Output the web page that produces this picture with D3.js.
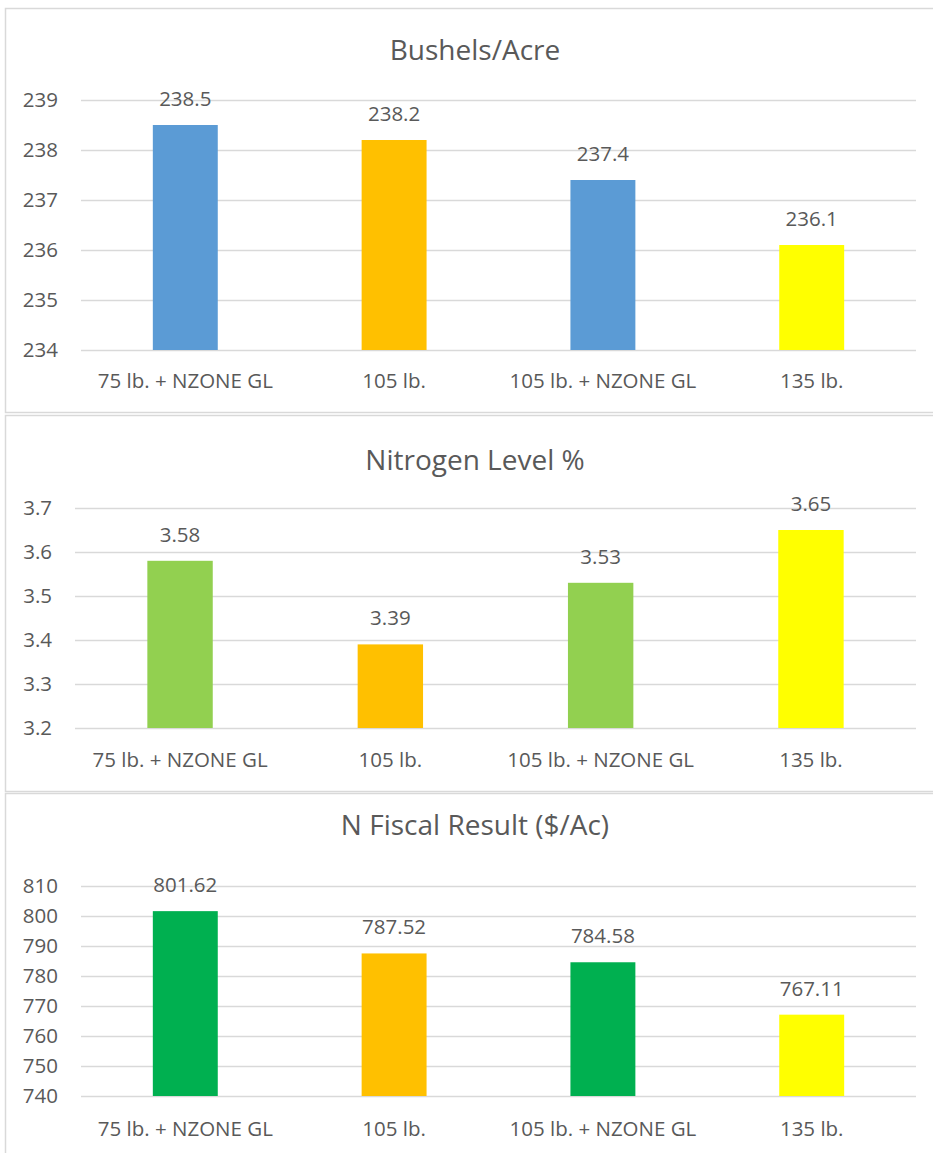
<!DOCTYPE html>
<html>
<head>
<meta charset="utf-8">
<script src="https://cdn.jsdelivr.net/npm/d3@7"></script>
<style>
  body { margin: 0; background: #fff; }
  svg { display: block; font-family: "Open Sans", sans-serif; }
</style>
</head>
<body>
<svg id="chart" width="933" height="1153"></svg>
<script>
const categories = ["75 lb. + NZONE GL", "105 lb.", "105 lb. + NZONE GL", "135 lb."];

const bushels = [238.5, 238.2, 237.4, 236.1];
const nitrogen = [3.58, 3.39, 3.53, 3.65];
const fiscal = [801.62, 787.52, 784.58, 767.11];

const bushelTicks = [234, 235, 236, 237, 238, 239];
const nitrogenTicks = [3.2, 3.3, 3.4, 3.5, 3.6, 3.7];
const fiscalTicks = [740, 750, 760, 770, 780, 790, 800, 810];

const textColor = "#595959";
const gridColor = "#d9d9d9";

// one entry per chart box
const panels = [
  {
    title: "Bushels/Acre", values: bushels, ticks: bushelTicks,
    tickFmt: d3.format("d"), labelFmt: d3.format(".1f"),
    colors: ["#5b9bd5", "#ffc000", "#5b9bd5", "#ffff00"],
    box: [8, 412], left: 81, top: 100, bottom: 350, titleY: 60, catY: 388
  },
  {
    title: "Nitrogen Level %", values: nitrogen, ticks: nitrogenTicks,
    tickFmt: d3.format(".1f"), labelFmt: d3.format(".2f"),
    colors: ["#92d050", "#ffc000", "#92d050", "#ffff00"],
    box: [415, 791], left: 75, top: 508, bottom: 728, titleY: 470, catY: 767
  },
  {
    title: "N Fiscal Result ($/Ac)", values: fiscal, ticks: fiscalTicks,
    tickFmt: d3.format("d"), labelFmt: d3.format(".2f"),
    colors: ["#00b050", "#ffc000", "#00b050", "#ffff00"],
    box: [793, 1170], left: 81, top: 886, bottom: 1096, titleY: 835, catY: 1136
  }
];

const svg = d3.select("#chart");
const right = 916;

panels.forEach((p) => {
  // chart border
  svg.append("rect")
    .attr("x", 5.5)
    .attr("y", p.box[0] + 0.5)
    .attr("width", 960)
    .attr("height", p.box[1] - p.box[0])
    .attr("fill", "#fff")
    .attr("stroke", gridColor)
    .attr("stroke-width", 1.5);

  const x = d3.scaleBand()
    .domain(categories)
    .range([p.left, right])
    .paddingInner(0.689)
    .paddingOuter(0.344);

  const y = d3.scaleLinear()
    .domain(d3.extent(p.ticks))
    .range([p.bottom, p.top]);

  svg.append("text")
    .attr("x", 475)
    .attr("y", p.titleY)
    .attr("text-anchor", "middle")
    .attr("fill", textColor)
    .attr("font-size", 28)
    .text(p.title);

  const gy = svg.append("g")
    .attr("transform", "translate(" + p.left + ",0)")
    .call(d3.axisLeft(y).tickValues(p.ticks).tickFormat(p.tickFmt)
      .tickSizeInner(-(right - p.left)).tickSizeOuter(0).tickPadding(23));
  gy.select(".domain").remove();
  gy.selectAll(".tick line").attr("stroke", gridColor).attr("stroke-width", 1.5);
  gy.selectAll(".tick text")
    .attr("fill", textColor)
    .attr("font-size", 20.5)
    .attr("font-family", "Open Sans, sans-serif");

  svg.append("g")
    .selectAll("text")
    .data(p.values)
    .join("text")
    .attr("x", (d, i) => x(categories[i]) + x.bandwidth() / 2)
    .attr("y", (d) => y(d) - 19)
    .attr("text-anchor", "middle")
    .attr("fill", textColor)
    .attr("font-size", 20.5)
    .text((d) => p.labelFmt(d));

  svg.append("g")
    .selectAll("rect")
    .data(p.values)
    .join("rect")
    .attr("x", (d, i) => x(categories[i]))
    .attr("y", (d) => y(d))
    .attr("width", x.bandwidth())
    .attr("height", (d) => p.bottom - y(d))
    .attr("fill", (d, i) => p.colors[i]);

  const gx = svg.append("g")
    .attr("transform", "translate(0," + p.bottom + ")")
    .call(d3.axisBottom(x).tickSize(0));
  gx.select(".domain").remove();
  gx.selectAll(".tick text")
    .attr("y", p.catY - p.bottom)
    .attr("dy", 0)
    .attr("fill", textColor)
    .attr("font-size", 20.5)
    .attr("font-family", "Open Sans, sans-serif");
});
</script>
</body>
</html>
